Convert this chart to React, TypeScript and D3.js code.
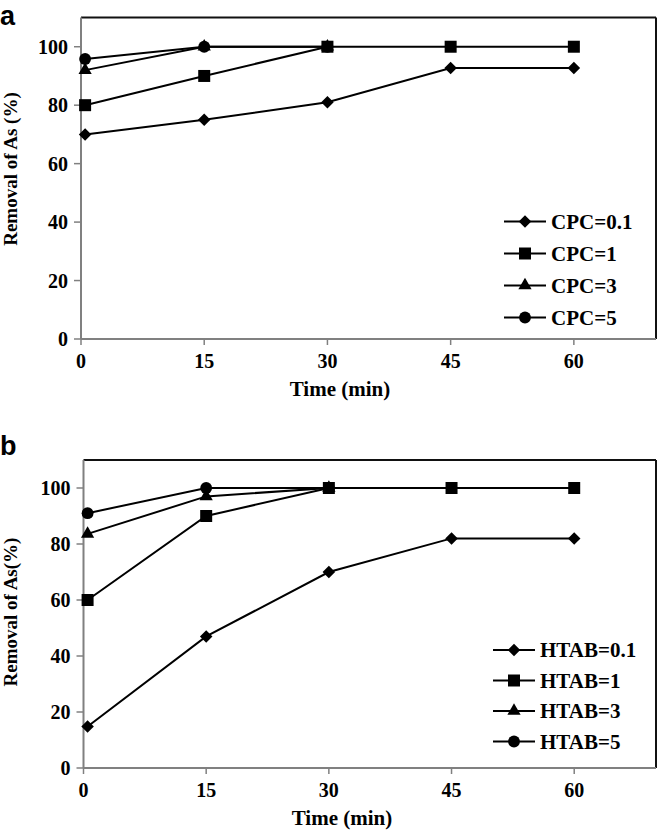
import React from "react";
import * as d3 from "d3";

// ---- data ----
const TIME = [0.5, 15, 30, 45, 60];
const X_TICKS = [0, 15, 30, 45, 60];
const Y_TICKS = [0, 20, 40, 60, 80, 100];

const CPC_LABELS = ["CPC=0.1", "CPC=1", "CPC=3", "CPC=5"];
const CPC_01 = [70, 75, 81, 92.7, 92.7];
const CPC_1 = [80, 90, 100, 100, 100];
const CPC_3 = [92, 100, 100];
const CPC_5 = [95.8, 100, 100];

const HTAB_LABELS = ["HTAB=0.1", "HTAB=1", "HTAB=3", "HTAB=5"];
const HTAB_01 = [14.8, 47, 70, 82, 82];
const HTAB_1 = [60, 90, 100, 100, 100];
const HTAB_3 = [83.6, 97, 100];
const HTAB_5 = [91, 100, 100];

const SHAPES = ["diamond", "square", "triangle", "circle"];

const symType = (s: string) => {
  if (s === "diamond") return (d3 as any).symbolDiamond2 ?? d3.symbolDiamond;
  if (s === "square") return d3.symbolSquare;
  if (s === "triangle") return d3.symbolTriangle;
  return d3.symbolCircle;
};
const symSize = (s: string) => {
  if (s === "diamond") return 100;
  if (s === "square") return 144;
  if (s === "triangle") return 76;
  return 110;
};
const symPath = (s: string) => d3.symbol().type(symType(s)).size(symSize(s))() as string;

const SERIF = "'Liberation Serif', 'Times New Roman', serif";

type PanelProps = {
  letter: string;
  labels: string[];
  series: number[][];
  yTitle: string;
  left: number;
  top: number;
  right: number;
  bottom: number;
  legendX: number;
  legendY: number[];
  titleX: number;
  yTitleY: number;
  letterY: number;
};

function Panel(p: PanelProps) {
  const x = d3.scaleLinear().domain([0, 70]).range([p.left, p.right]);
  const y = d3.scaleLinear().domain([0, 110]).range([p.bottom, p.top]);
  const line = d3
    .line<number>()
    .x((_, i) => x(TIME[i]))
    .y((d) => y(d));
  const order = [3, 2, 1, 0];
  return (
    <g>
      <text x={0} y={p.letterY} fontFamily="'Liberation Sans', Arial, sans-serif" fontWeight="bold" fontSize={27}>
        {p.letter}
      </text>
      {/* frame */}
      <line x1={p.left} x2={p.right} y1={p.top} y2={p.top} stroke="#111" strokeWidth={2} />
      <line x1={p.right} x2={p.right} y1={p.top} y2={p.bottom} stroke="#111" strokeWidth={2} />
      <line x1={p.left} x2={p.left} y1={p.top} y2={p.bottom} stroke="#808080" strokeWidth={2} />
      <line x1={p.left} x2={p.right} y1={p.bottom} y2={p.bottom} stroke="#808080" strokeWidth={2} />
      {/* y ticks */}
      {Y_TICKS.map((t) => (
        <g key={"y" + t}>
          <line x1={p.left - 7} x2={p.left} y1={y(t)} y2={y(t)} stroke="#808080" strokeWidth={1.5} />
          <text x={p.left - 13} y={y(t)} dy="0.35em" textAnchor="end" fontFamily={SERIF} fontWeight="bold" fontSize={20}>
            {t}
          </text>
        </g>
      ))}
      {/* x ticks */}
      {X_TICKS.map((t) => (
        <g key={"x" + t}>
          <line x1={x(t)} x2={x(t)} y1={p.bottom} y2={p.bottom + 6} stroke="#808080" strokeWidth={1.5} />
          <text x={x(t)} y={p.bottom + 29} textAnchor="middle" fontFamily={SERIF} fontWeight="bold" fontSize={20}>
            {t}
          </text>
        </g>
      ))}
      <text x={p.titleX} y={p.bottom + 57} textAnchor="middle" fontFamily={SERIF} fontWeight="bold" fontSize={21}>
        Time (min)
      </text>
      <text
        transform={`translate(17,${p.yTitleY}) rotate(-90)`}
        textAnchor="middle"
        fontFamily={SERIF}
        fontWeight="bold"
        fontSize={19}
      >
        {p.yTitle}
      </text>
      {/* lines */}
      {order.map((k) => (
        <path key={"l" + k} d={line(p.series[k]) as string} fill="none" stroke="#000" strokeWidth={2} />
      ))}
      {/* markers */}
      {order.map((k) => (
        <g key={"m" + k}>
          {p.series[k].map((v, i) => (
            <path key={i} d={symPath(SHAPES[k])} transform={`translate(${x(TIME[i])},${y(v)})`} fill="#000" />
          ))}
        </g>
      ))}
      {/* legend */}
      {p.labels.map((lab, k) => (
        <g key={"lg" + k}>
          <line x1={p.legendX} x2={p.legendX + 42} y1={p.legendY[k]} y2={p.legendY[k]} stroke="#000" strokeWidth={2} />
          <path d={symPath(SHAPES[k])} transform={`translate(${p.legendX + 21},${p.legendY[k]})`} fill="#000" />
          <text x={p.legendX + 47} y={p.legendY[k]} dy="0.35em" fontFamily={SERIF} fontWeight="bold" fontSize={21}>
            {lab}
          </text>
        </g>
      ))}
    </g>
  );
}

export default function App() {
  return (
    <svg
      width={657}
      height={830}
      viewBox="0 0 657 830"
      style={{ position: "absolute", left: 0, top: 0, background: "#fff" }}
    >
      <rect width={657} height={830} fill="#fff" />
      <Panel
        letter="a"
        labels={CPC_LABELS}
        series={[CPC_01, CPC_1, CPC_3, CPC_5]}
        yTitle="Removal of As (%)"
        left={81}
        top={17.5}
        right={656}
        bottom={339}
        legendX={504}
        legendY={[221.5, 253.5, 285.5, 317.5]}
        titleX={340}
        yTitleY={169}
        letterY={25}
      />
      <Panel
        letter="b"
        labels={HTAB_LABELS}
        series={[HTAB_01, HTAB_1, HTAB_3, HTAB_5]}
        yTitle="Removal of As(%)"
        left={83.5}
        top={460}
        right={656}
        bottom={768}
        legendX={493}
        legendY={[650, 680.5, 711, 741.5]}
        titleX={342}
        yTitleY={612}
        letterY={455}
      />
    </svg>
  );
}
